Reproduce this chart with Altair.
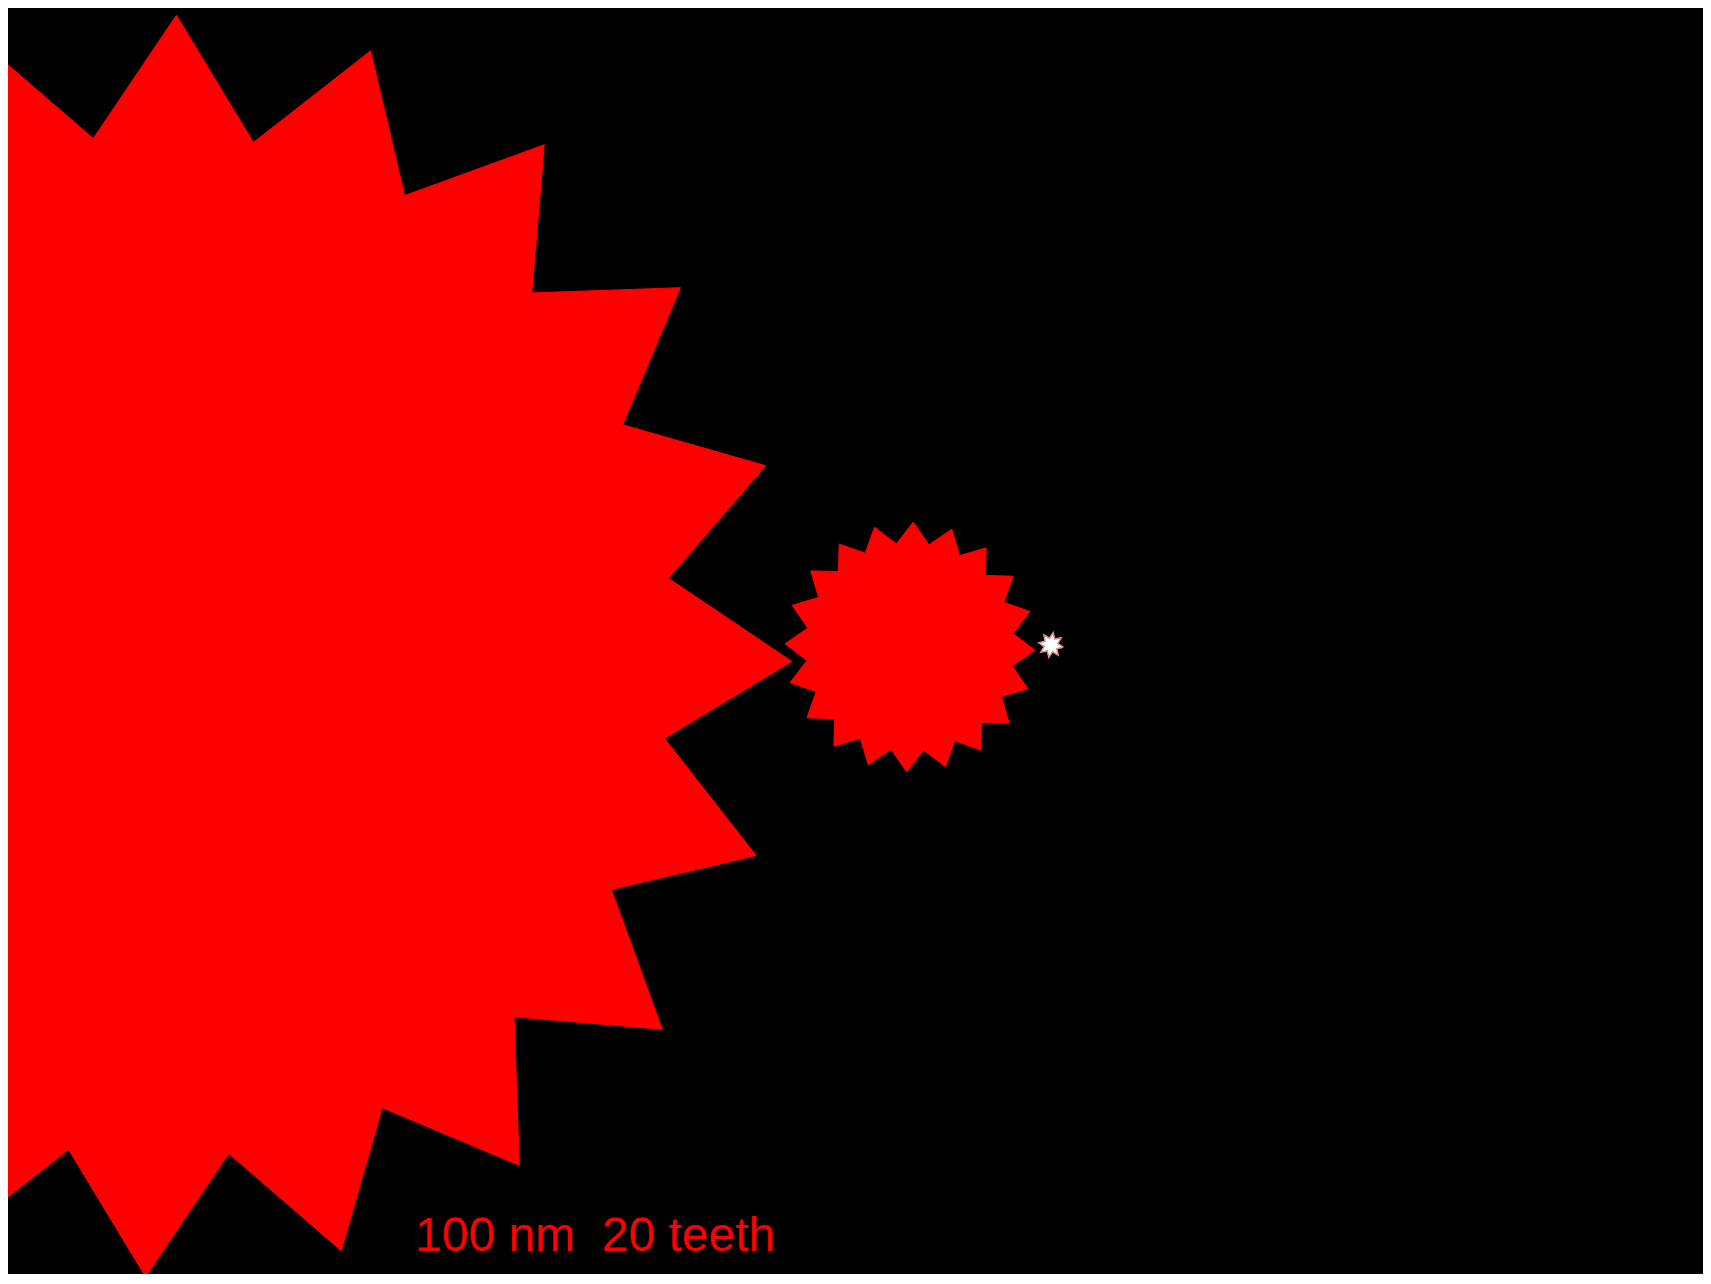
import altair as alt
import numpy as np
import pandas as pd

# Gear parameters (units = reference pixels)
gear_names = ["large", "medium", "small"]
gear_center_x = [161.0, 910.0, 1051.0]
gear_center_y = [646.0, 647.0, 645.0]
gear_tip_radius = [631.0, 125.0, 12.5]
gear_root_radius = [512.0, 104.0, 7.0]
gear_teeth = [20, 20, 8]
gear_phase_deg = [1.4, 1.5, 10.0]

label_text = ["100 nm\u00a0 20 teeth"]

# Build the outline of each gear (alternating tip / root vertices)
rows = []
for name, cx, cy, rt, rr, n, ph in zip(gear_names, gear_center_x, gear_center_y,
                                       gear_tip_radius, gear_root_radius,
                                       gear_teeth, gear_phase_deg):
    for k in range(2 * n + 1):
        ang = np.deg2rad(ph + k * 180.0 / n)
        r = rt if k % 2 == 0 else rr
        rows.append({"gear": name, "order": k,
                     "x": cx + r * np.cos(ang), "y": cy + r * np.sin(ang)})
gears = pd.DataFrame(rows)

W, H = 1695, 1266
xs = alt.Scale(domain=[8, 8 + W], nice=False, zero=False)
ys = alt.Scale(domain=[8, 8 + H], reverse=True, nice=False, zero=False)

base = alt.Chart(gears).encode(
    x=alt.X("x:Q", scale=xs, axis=None),
    y=alt.Y("y:Q", scale=ys, axis=None),
    detail="gear:N",
    order="order:Q",
)

red_gears = base.transform_filter(alt.datum.gear != "small").mark_line(
    fill="#ff0000", stroke="#ff0000", strokeWidth=1, clip=True, interpolate="linear"
)

small_gear = base.transform_filter(alt.datum.gear == "small").mark_line(
    fill="#ffffff", stroke="#d88a8a", strokeWidth=1.5, clip=True, interpolate="linear"
)

label = alt.Chart(pd.DataFrame({"label": label_text})).mark_text(
    align="left", baseline="alphabetic", fontSize=48, font="Liberation Sans",
    color="#ff0000"
).encode(
    x=alt.datum(415.0, scale=xs),
    y=alt.datum(1250.5, scale=ys),
    text="label:N",
)

chart = alt.layer(red_gears, small_gear, label).properties(
    width=W, height=H, padding=0, autosize="none", background="black"
).configure_view(strokeWidth=0, fill="black")

chart.save("out.html", embed_options={"renderer": "svg", "actions": False})
